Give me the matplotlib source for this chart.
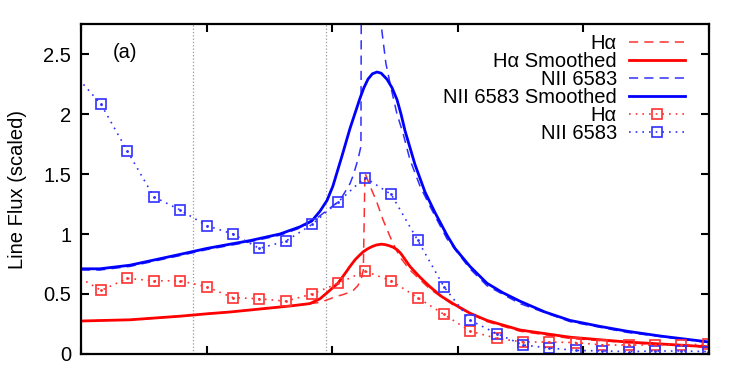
import matplotlib
matplotlib.use("Agg")
import matplotlib.pyplot as plt

plt.rcParams['font.family'] = ['Liberation Sans', 'DejaVu Sans']

# binned measurements (squares)
bin_x = [-0.05, 0.16, 0.37, 0.58, 0.79, 1.00, 1.21, 1.42, 1.63, 1.84, 2.05, 2.26, 2.47,
         2.68, 2.89, 3.10, 3.31, 3.52, 3.73, 3.94, 4.15, 4.36, 4.57, 4.78, 4.99]
ha_bins = [0.66, 0.53, 0.63, 0.61, 0.61, 0.56, 0.47, 0.46, 0.44, 0.50, 0.59, 0.69, 0.61,
           0.47, 0.33, 0.19, 0.13, 0.10, 0.10, 0.095, 0.075, 0.075, 0.075, 0.075, 0.083]
nii_bins = [2.33, 2.08, 1.69, 1.31, 1.20, 1.07, 1.00, 0.88, 0.94, 1.08, 1.27, 1.47, 1.33,
            0.95, 0.56, 0.28, 0.17, 0.075, 0.05, 0.03, 0.025, 0.02, 0.025, 0.025, 0.02]

# model profiles
ha_x = [0.0, 0.390, 0.788, 1.003, 1.186, 1.425, 1.664, 1.823, 1.903, 2.036, 2.102, 2.168,
        2.205, 2.235, 2.248, 2.261, 2.301, 2.354, 2.404, 2.460, 2.508, 2.553, 2.619,
        2.699, 2.779, 2.962, 3.232, 3.495, 3.893, 4.347, 5.0]
ha_raw = [0.275, 0.285, 0.315, 0.335, 0.35, 0.375, 0.40, 0.42, 0.43, 0.48, 0.50, 0.53,
          0.57, 0.64, 0.70, 1.51, 1.40, 1.27, 1.12, 0.98, 0.87, 0.79, 0.70,
          0.62, 0.54, 0.41, 0.27, 0.19, 0.13, 0.095, 0.055]

has_x = [0.0, 0.390, 0.788, 1.003, 1.186, 1.425, 1.664, 1.823, 1.903, 1.959, 2.046, 2.102,
         2.142, 2.182, 2.21, 2.245, 2.28, 2.317, 2.35, 2.389, 2.42, 2.452, 2.485, 2.516,
         2.545, 2.572, 2.619, 2.699, 2.779, 2.87, 2.962, 3.097, 3.232, 3.495, 3.893,
         4.347, 5.0]
ha_smooth = [0.275, 0.285, 0.315, 0.335, 0.35, 0.375, 0.40, 0.42, 0.46, 0.51, 0.59, 0.67,
             0.73, 0.785, 0.815, 0.85, 0.875, 0.895, 0.908, 0.915, 0.912, 0.903, 0.89, 0.87,
             0.84, 0.80, 0.73, 0.64, 0.56, 0.48, 0.42, 0.34, 0.28, 0.20, 0.14,
             0.10, 0.06]

nii_x = [0.0, 0.151, 0.390, 0.589, 0.788, 1.003, 1.186, 1.346, 1.584, 1.744, 1.863, 2.062,
         2.142, 2.168, 2.205, 2.229, 2.243, 2.389, 2.428, 2.468, 2.516, 2.564, 2.619,
         2.699, 2.779, 2.914, 3.097, 3.232, 3.495, 3.893, 4.347, 5.0]
nii_raw = [0.70, 0.70, 0.73, 0.775, 0.82, 0.87, 0.905, 0.935, 0.99, 1.05, 1.12, 1.28,
           1.42, 1.49, 1.62, 1.73, 8.0, 2.75, 2.42, 2.22, 2.00, 1.84, 1.62,
           1.40, 1.23, 0.96, 0.71, 0.57, 0.42, 0.27, 0.18, 0.095]

niis_x = [0.0, 0.151, 0.390, 0.589, 0.788, 1.003, 1.186, 1.346, 1.584, 1.744, 1.839, 1.903,
          1.959, 2.006, 2.078, 2.142, 2.221, 2.253, 2.285, 2.32, 2.357, 2.39, 2.436,
          2.476, 2.516, 2.548, 2.580, 2.659, 2.739, 2.818, 2.914, 2.978, 3.097, 3.232,
          3.360, 3.495, 3.694, 3.893, 4.132, 4.347, 4.610, 5.0]
nii_smooth = [0.71, 0.71, 0.74, 0.785, 0.83, 0.88, 0.915, 0.945, 1.00, 1.06, 1.11, 1.19,
              1.28, 1.40, 1.65, 1.88, 2.13, 2.22, 2.29, 2.335, 2.35, 2.34, 2.29,
              2.22, 2.12, 2.00, 1.86, 1.58, 1.35, 1.18, 0.99, 0.88, 0.73, 0.59,
              0.51, 0.44, 0.35, 0.28, 0.23, 0.19, 0.15, 0.10]

guide_x = [0.895, 1.952]

fig = plt.figure(figsize=(7.47, 3.66), dpi=100)
ax = fig.add_axes([0.1084, 0.0328, 0.8407, 0.9016])

for gx in guide_x:
    ax.axvline(gx, color='#999999', linestyle=':', linewidth=0.9, zorder=1)

ax.plot(ha_x, ha_raw, color='#ff3030', linestyle=(0, (6, 4)), linewidth=1.1, label='Hα')
ax.plot(has_x, ha_smooth, color='red', linewidth=2.0, label='Hα Smoothed')
ax.plot(nii_x, nii_raw, color='#3030ff', linestyle=(0, (6, 4)), linewidth=1.1, label='NII 6583')
ax.plot(niis_x, nii_smooth, color='blue', linewidth=2.0, label='NII 6583 Smoothed')
ax.plot(bin_x, ha_bins, color='#ff3030', linestyle=(0, (1, 3)), linewidth=1.2,
        marker='s', markersize=7, markerfacecolor='none', markeredgewidth=1.2, label='Hα')
ax.plot(bin_x, nii_bins, color='#3030ff', linestyle=(0, (1, 3)), linewidth=1.2,
        marker='s', markersize=7, markerfacecolor='none', markeredgewidth=1.2, label='NII 6583')
# little dot in the middle of each square
ax.plot(bin_x, ha_bins, linestyle='none', marker='.', markersize=2, color='#ff3030')
ax.plot(bin_x, nii_bins, linestyle='none', marker='.', markersize=2, color='#3030ff')

ax.set_xlim(0, 5)
ax.set_ylim(0, 2.75)
ax.set_xticks([0, 1, 2, 3, 4, 5])
ax.set_xticklabels([])
ax.set_yticks([0, 0.5, 1, 1.5, 2, 2.5])
ax.set_yticklabels(['0', '0.5', '1', '1.5', '2', '2.5'])
ax.tick_params(direction='in', length=6, width=1.5, top=True, right=True,
               labelsize=14.5, pad=7)
for s in ax.spines.values():
    s.set_linewidth(1.6)

ax.set_ylabel('Line Flux (scaled)', fontsize=14.5, labelpad=12)
ax.text(0.255, 2.47, '(a)', fontsize=14.5)

ax.legend(loc='upper right', frameon=False, markerfirst=False, fontsize=14.5,
          handlelength=2.8, handletextpad=0.6, labelspacing=-0.05,
          borderaxespad=0.3, bbox_to_anchor=(0.985, 1.012))

fig.savefig('out.png', dpi=100)
